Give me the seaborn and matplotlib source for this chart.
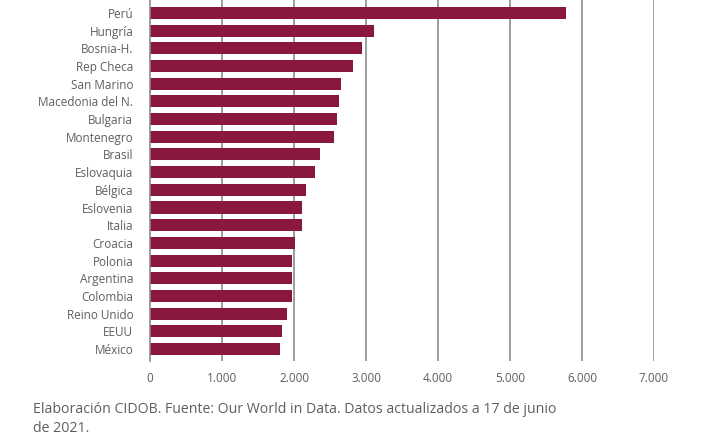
import pandas as pd
import seaborn as sns
import matplotlib.pyplot as plt
from matplotlib.ticker import FuncFormatter

# --- Data ---
paises = ["Perú", "Hungría", "Bosnia-H.", "Rep Checa", "San Marino",
          "Macedonia del N.", "Bulgaria", "Montenegro", "Brasil", "Eslovaquia",
          "Bélgica", "Eslovenia", "Italia", "Croacia", "Polonia",
          "Argentina", "Colombia", "Reino Unido", "EEUU", "México"]
valores = [5780, 3110, 2940, 2820, 2650,
           2625, 2597, 2555, 2360, 2290,
           2167, 2110, 2110, 2010, 1970,
           1970, 1970, 1900, 1830, 1805]
x_ticks = [0, 1000, 2000, 3000, 4000, 5000, 6000, 7000]
nota = "Elaboración CIDOB. Fuente: Our World in Data. Datos actualizados a 17 de junio\nde 2021."

df = pd.DataFrame({"pais": paises, "valor": valores})

sns.set_theme(style="white")
plt.rcParams['font.family'] = ['Open Sans', 'DejaVu Sans']

bar_color = "#8A173D"
text_color = "#5E5E5E"
grid_color = "#8C8C8C"

fig = plt.figure(figsize=(7.12, 4.42), dpi=100)
ax = fig.add_axes([150 / 712, 1 - 361 / 442, 504 / 712, 361 / 442])

# vertical grid lines, drawn under the bars
for t in x_ticks[1:]:
    ax.axvline(t, color=grid_color, lw=1.2, zorder=0)

sns.barplot(data=df, x="valor", y="pais", orient="h", color=bar_color,
            saturation=1, width=0.68, linewidth=0, ax=ax, zorder=2)

ax.set_xlim(0, 7000)
ax.set_ylim(19.68, -0.735)
ax.set_xticks(x_ticks)
ax.xaxis.set_major_formatter(FuncFormatter(lambda v, p: f"{int(v):,}".replace(",", ".")))
ax.set_xlabel("")
ax.set_ylabel("")

for s in ["top", "right", "bottom"]:
    ax.spines[s].set_visible(False)
ax.spines["left"].set_color(grid_color)
ax.spines["left"].set_linewidth(1.2)

ax.tick_params(axis="x", bottom=False, length=0, labelsize=8.5,
               labelcolor=text_color, pad=8)
ax.tick_params(axis="y", left=False, labelsize=8.5, labelcolor=text_color, pad=6)

fig.text(33 / 712, 1 - 402 / 442, nota, ha="left", va="top", fontsize=10.2,
         color=text_color, linespacing=1.4)

fig.savefig("out.png", dpi=100)
